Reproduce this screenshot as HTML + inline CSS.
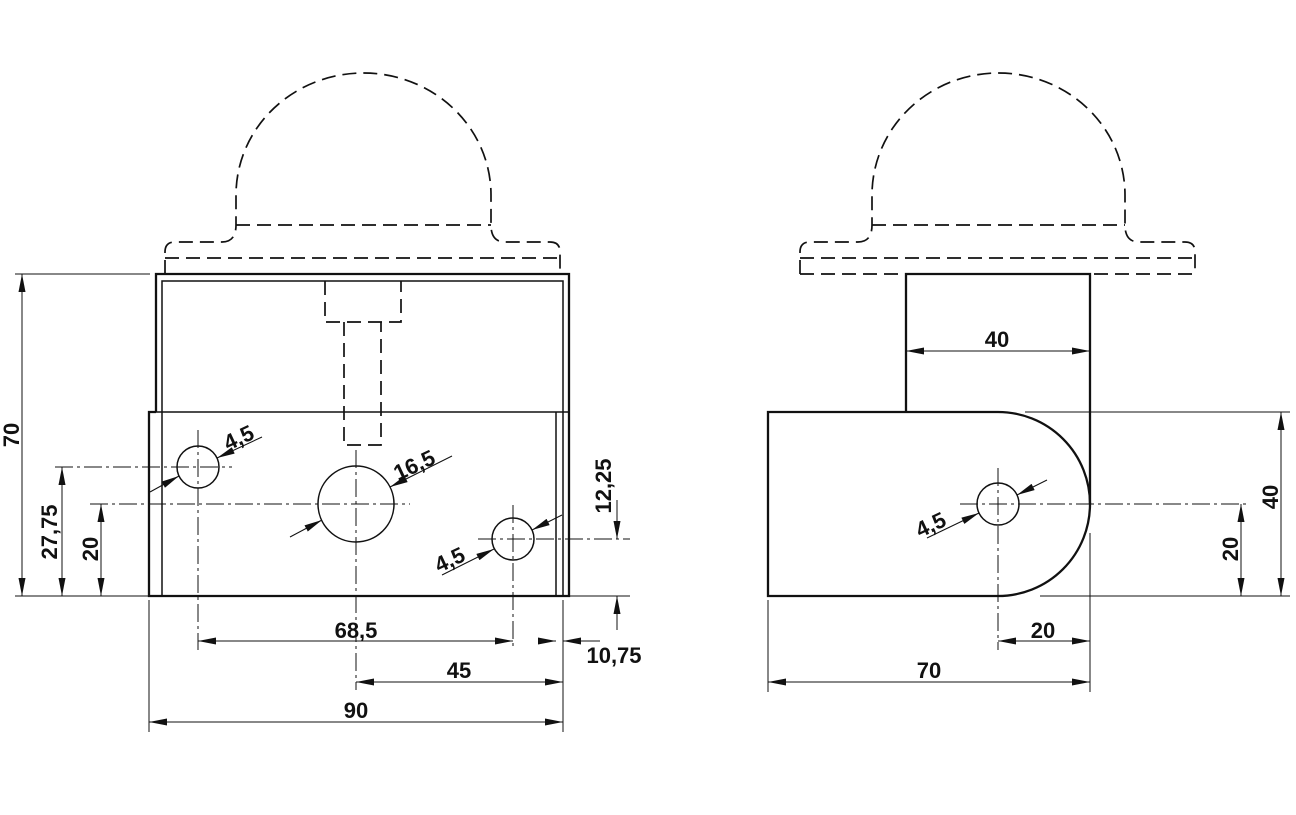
<!DOCTYPE html>
<html><head><meta charset="utf-8"><style>
html,body{margin:0;padding:0;background:#fff}
svg{display:block}
text{font-family:"Liberation Sans",sans-serif;font-weight:bold;font-size:22px;fill:#111}
</style></head><body>
<svg width="1296" height="815" viewBox="0 0 1296 815" xmlns="http://www.w3.org/2000/svg">
<defs>
<marker id="a" viewBox="0 0 18 7" refX="18" refY="3.5" markerWidth="18" markerHeight="7" markerUnits="userSpaceOnUse" orient="auto-start-reverse"><path d="M0,0 L18,3.5 L0,7 z" fill="#111"/></marker>
</defs>
<g fill="none" stroke="#111">
<!-- LEFT VIEW -->
<g stroke-dasharray="14,7" stroke-width="1.7">
<path d="M165 274 V252 Q165 242 175 242 H222 Q236 242 236 225 V195 A127.5 122 0 0 1 491 195 V225 Q491 242 505 242 H550 Q560 242 560 252 V274"/>
<path d="M165 258 H560"/>
<path d="M236 225 H491"/>
<path d="M325 281 V322 H401 V281"/>
<path d="M344 322 V445 H381 V322"/>
</g>
<g stroke-width="2.3">
<path d="M156 412 V274 H569 V596 H149 V412 H156"/>
</g>
<g stroke-width="1.5">
<path d="M162 412 V281 H563 V596"/>
<path d="M149 412 H569"/>
<path d="M162 412 V596"/>
<path d="M556 412 V596"/>
<circle cx="198" cy="467" r="21"/>
<circle cx="356" cy="504" r="38"/>
<circle cx="513" cy="539" r="21"/>
</g>
<g stroke-width="1" stroke-dasharray="18,4,3,4">
<path d="M198 430 V650"/>
<path d="M356 450 V690"/>
<path d="M513 505 V650"/>
<path d="M55 467 H232"/>
<path d="M90 504 H410"/>
<path d="M478 539 H630"/>
</g>
<g stroke-width="1">
<path d="M15 274 H150"/><path d="M15 596 H150"/><path d="M569 596 H630"/>
<path d="M149 600 V732"/><path d="M563 600 V732"/>
<path d="M22 274 V596" marker-start="url(#a)" marker-end="url(#a)"/>
<path d="M62 467 V596" marker-start="url(#a)" marker-end="url(#a)"/>
<path d="M101 504 V596" marker-start="url(#a)" marker-end="url(#a)"/>
<path d="M617 500 V539" marker-end="url(#a)"/>
<path d="M617 630 V596" marker-end="url(#a)"/>
<path d="M198 641 H513" marker-start="url(#a)" marker-end="url(#a)"/>
<path d="M538 641 H556" marker-end="url(#a)"/>
<path d="M600 641 H563" marker-end="url(#a)"/>
<path d="M356 682 H563" marker-start="url(#a)" marker-end="url(#a)"/>
<path d="M149 722 H563" marker-start="url(#a)" marker-end="url(#a)"/>
<path d="M150 492 L179 476" marker-end="url(#a)"/>
<path d="M262 437 L217 458" marker-end="url(#a)"/>
<path d="M290 537 L322 520" marker-end="url(#a)"/>
<path d="M452 456 L390 487" marker-end="url(#a)"/>
<path d="M442 575 L494 549" marker-end="url(#a)"/>
<path d="M562 515 L532 530" marker-end="url(#a)"/>
</g>
<!-- RIGHT VIEW -->
<g stroke-dasharray="14,7" stroke-width="1.7">
<path d="M800 274 V252 Q800 242 810 242 H858 Q872 242 872 225 V195 A126.5 122 0 0 1 1125 195 V225 Q1125 242 1139 242 H1185 Q1195 242 1195 252 V274"/>
<path d="M800 258 H1195"/>
<path d="M872 225 H1125"/>
<path d="M800 274 H1195"/>
</g>
<g stroke-width="2.3">
<path d="M906 412 V274 H1090 V504"/>
<path d="M906 412 H768 V596 H998 A92 92 0 0 0 998 412 H906"/>
</g>
<circle cx="998" cy="504" r="21" stroke-width="1.5"/>
<g stroke-width="1" stroke-dasharray="18,4,3,4">
<path d="M998 468 V650"/>
<path d="M960 504 H1250"/>
</g>
<g stroke-width="1">
<path d="M1025 412 H1290"/><path d="M1040 596 H1290"/>
<path d="M768 600 V692"/><path d="M1090 533 V692"/>
<path d="M906 351 H1090" marker-start="url(#a)" marker-end="url(#a)"/>
<path d="M1281 412 V596" marker-start="url(#a)" marker-end="url(#a)"/>
<path d="M1241 504 V596" marker-start="url(#a)" marker-end="url(#a)"/>
<path d="M998 641 H1090" marker-start="url(#a)" marker-end="url(#a)"/>
<path d="M768 682 H1090" marker-start="url(#a)" marker-end="url(#a)"/>
<path d="M927 538 L979 513" marker-end="url(#a)"/>
<path d="M1047 480 L1017 495" marker-end="url(#a)"/>
</g>
</g>
<!-- TEXT -->
<text x="0" y="0" text-anchor="middle" transform="translate(19,435) rotate(-90)">70</text>
<text x="0" y="0" text-anchor="middle" transform="translate(57,532) rotate(-90)">27,75</text>
<text x="0" y="0" text-anchor="middle" transform="translate(98,549) rotate(-90)">20</text>
<text x="0" y="0" text-anchor="middle" transform="translate(611,486) rotate(-90)">12,25</text>
<text x="356" y="638" text-anchor="middle">68,5</text>
<text x="614" y="663" text-anchor="middle">10,75</text>
<text x="459" y="678" text-anchor="middle">45</text>
<text x="356" y="718" text-anchor="middle">90</text>
<text x="0" y="0" transform="translate(228,451) rotate(-25)">4,5</text>
<text x="0" y="0" transform="translate(398,481) rotate(-25)">16,5</text>
<text x="0" y="0" transform="translate(439,573) rotate(-25)">4,5</text>
<text x="997" y="347" text-anchor="middle">40</text>
<text x="0" y="0" text-anchor="middle" transform="translate(1278,497) rotate(-90)">40</text>
<text x="0" y="0" text-anchor="middle" transform="translate(1238,549) rotate(-90)">20</text>
<text x="1043" y="638" text-anchor="middle">20</text>
<text x="929" y="678" text-anchor="middle">70</text>
<text x="0" y="0" transform="translate(920,538) rotate(-25)">4,5</text>
</svg>
</body></html>
